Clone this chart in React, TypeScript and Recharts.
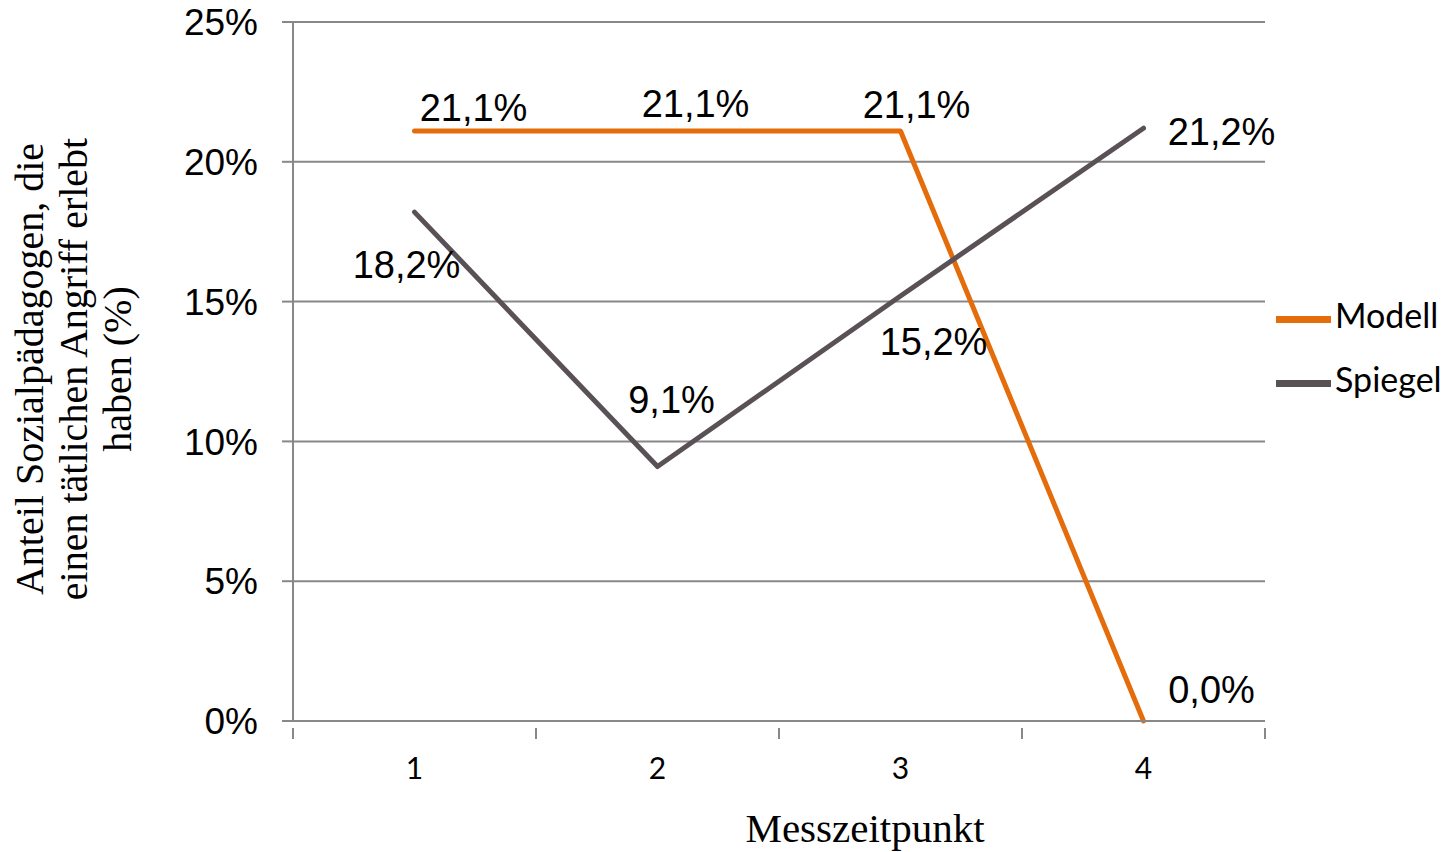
import React from 'react';
import { LineChart, Line, XAxis, YAxis, CartesianGrid, Legend, LabelList } from 'recharts';

const categories = [1, 2, 3, 4];
const modell = [21.1, 21.1, 21.1, 0.0];
const spiegel = [18.2, 9.1, 15.2, 21.2];
const yTicks = [0, 5, 10, 15, 20, 25];
const xTickMarks = [0.5, 1, 1.5, 2, 2.5, 3, 3.5, 4, 4.5];

// label offsets (style only): [dx, dy] from the point
const modellLabelOffsets = [[59, -23], [38, -27], [16, -26], [68, -31]];
const spiegelLabelOffsets = [[-8, 53], [14, -67], [33, 46], [78, 4]];

const data = categories.map((c, i) => ({ x: c, Modell: modell[i], Spiegel: spiegel[i] }));

const fmt = (v: number) => v.toFixed(1).replace('.', ',') + '%';

const GRID = '#888888';
const ORANGE = '#E46C0A';
const GRAYLINE = '#5A5157';
const SERIF = "'Liberation Serif', 'Times New Roman', serif";

const makeLabel = (offsets: number[][]) => (props: any) => {
  const { x, y, value, index } = props;
  const [dx, dy] = offsets[index] || [0, 0];
  return (
    <text x={x + dx} y={y + dy} textAnchor="middle" dominantBaseline="central"
      fontFamily="'Liberation Sans', Arial, sans-serif" fontSize={38} fill="#000">
      {fmt(value)}
    </text>
  );
};

const XTick = (props: any) => {
  const { x, y, payload } = props;
  const v = payload.value;
  if (Math.abs(v - Math.round(v)) > 0.01) {
    return <line x1={x} y1={y - 1} x2={x} y2={y + 10} stroke={GRID} strokeWidth={2} />;
  }
  return (
    <text x={x} y={y + 38} textAnchor="middle" dominantBaseline="central"
      fontFamily="Lato, 'Open Sans', sans-serif" fontSize={30} fill="#000">
      {v}
    </text>
  );
};

const YTitle = () => (
  <text transform="translate(0, 369) rotate(-90)" textAnchor="middle"
    fontFamily={SERIF} fontSize={40} fill="#000">
    <tspan x={0} y={43}>Anteil Sozialpädagogen, die</tspan>
    <tspan x={0} y={87}>einen tätlichen Angriff erlebt</tspan>
    <tspan x={0} y={131}>haben (%)</tspan>
  </text>
);

const XTitle = () => (
  <text x={865} y={842} textAnchor="middle"
    fontFamily={SERIF} fontSize={41} fill="#000">Messzeitpunkt</text>
);

export default function App() {
  return (
    <div style={{ position: 'absolute', left: 0, top: 0, width: 1452, height: 852, background: '#fff' }}>
      <LineChart width={1452} height={852} data={data}
        margin={{ top: 22, right: 187, left: 0, bottom: 0 }}>
        <CartesianGrid vertical={false} stroke={GRID} strokeWidth={2} />
        <XAxis dataKey="x" type="number" domain={[0.5, 4.5]} ticks={xTickMarks}
          interval={0} height={131} stroke={GRID} strokeWidth={2} tickLine={false}
          tick={<XTick />} label={<XTitle />} />
        <YAxis domain={[0, 25]} ticks={yTicks} width={293} stroke={GRID} strokeWidth={2}
          tickSize={11} tickMargin={24} tickFormatter={(v: number) => `${v}%`}
          tick={{ fontFamily: "'Liberation Sans', Arial, sans-serif", fontSize: 37, fill: '#000' }}
          label={<YTitle />} />
        <Legend layout="vertical" verticalAlign="middle" align="center"
          iconType="plainline" iconSize={55}
          wrapperStyle={{ left: 1276, top: 283, width: 'auto', fontFamily: "Lato, 'Open Sans', sans-serif", fontSize: 34, lineHeight: '64px' }}
          formatter={(v: string) => <span style={{ color: '#000' }}>{v}</span>} />
        <Line dataKey="Modell" stroke={ORANGE} strokeWidth={5} dot={false} isAnimationActive={false}
          strokeLinecap="round" strokeLinejoin="round">
          <LabelList dataKey="Modell" content={makeLabel(modellLabelOffsets)} />
        </Line>
        <Line dataKey="Spiegel" stroke={GRAYLINE} strokeWidth={5} dot={false} isAnimationActive={false}
          strokeLinecap="round" strokeLinejoin="round">
          <LabelList dataKey="Spiegel" content={makeLabel(spiegelLabelOffsets)} />
        </Line>
      </LineChart>
    </div>
  );
}
